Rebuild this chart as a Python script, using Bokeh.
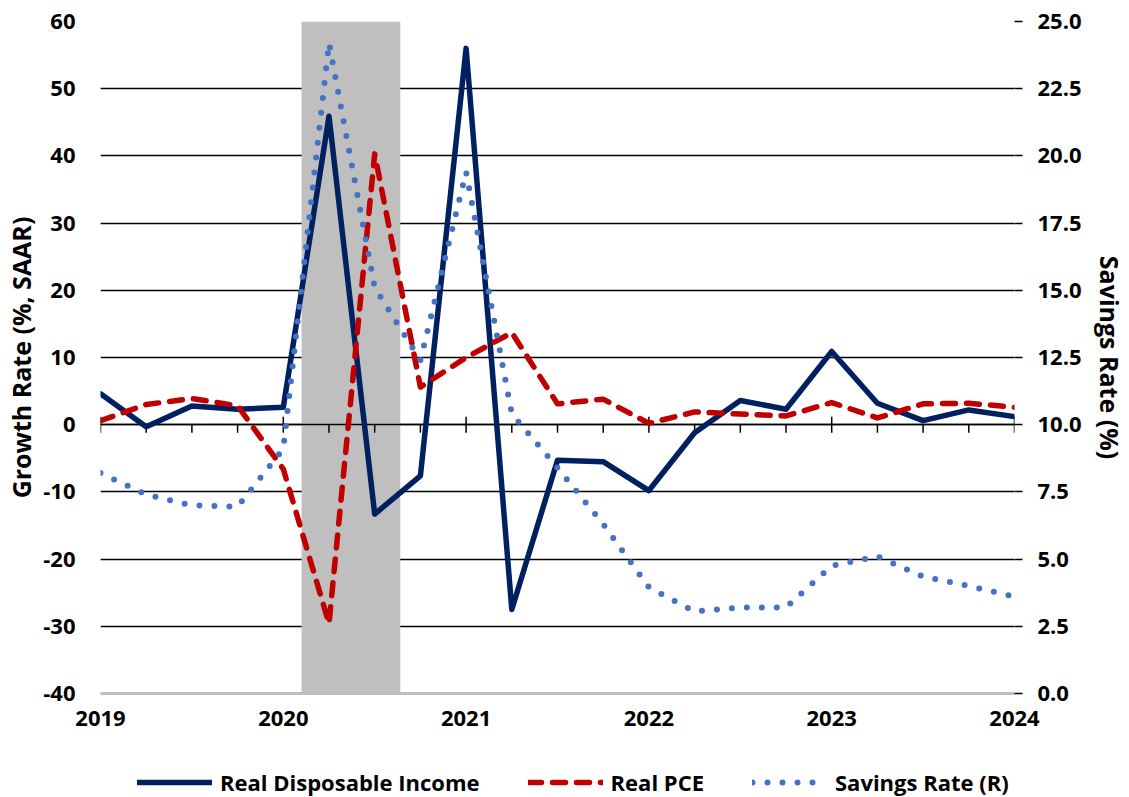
from bokeh.embed import file_html
from bokeh.layouts import column
from bokeh.models import (FixedTicker, Legend, LegendItem, LinearAxis,
                          NumeralTickFormatter, Range1d)
from bokeh.plotting import figure
from bokeh.resources import INLINE

# ---------------------------------------------------------------- data
quarters = ["2019Q1", "2019Q2", "2019Q3", "2019Q4",
            "2020Q1", "2020Q2", "2020Q3", "2020Q4",
            "2021Q1", "2021Q2", "2021Q3", "2021Q4",
            "2022Q1", "2022Q2", "2022Q3", "2022Q4",
            "2023Q1", "2023Q2", "2023Q3", "2023Q4",
            "2024Q1"]

# growth rates, % SAAR (left axis)
real_disposable_income = [4.6, -0.3, 2.8, 2.3, 2.6, 45.9, -13.3, -7.6, 56.0, -27.5,
                          -5.3, -5.5, -9.8, -1.2, 3.6, 2.3, 10.9, 3.2, 0.6, 2.2, 1.2]
real_pce = [0.6, 3.0, 3.9, 2.8, -6.6, -29.6, 40.3, 5.6, 10.0, 13.7,
            3.1, 3.8, 0.2, 1.9, 1.6, 1.3, 3.3, 1.0, 3.1, 3.2, 2.6]

# personal saving rate, % (right axis)
savings_rate = [8.2, 7.4, 7.0, 6.95, 9.1, 24.2, 15.1, 12.4, 19.4, 10.4,
                8.4, 6.3, 3.95, 3.05, 3.2, 3.2, 4.75, 5.1, 4.35, 4.0, 3.6]

year_ticks = [2019, 2020, 2021, 2022, 2023, 2024]
left_ticks = [-40, -30, -20, -10, 0, 10, 20, 30, 40, 50, 60]
right_ticks = [0.0, 2.5, 5.0, 7.5, 10.0, 12.5, 15.0, 17.5, 20.0, 22.5, 25.0]

recession_start = 2020.10
recession_end = 2020.64

left_title = "Growth Rate (%, SAAR)"
right_title = "Savings Rate (%)"
series_names = ["Real Disposable Income", "Real PCE", "Savings Rate (R)"]

# ---------------------------------------------------------------- styling
FONT = "Open Sans"
FONT_SIZE = "22px"
TITLE_SIZE = "25px"
NAVY = "#002060"
RED = "#C00000"
BLUE = "#4472C4"
SHADE = "#BFBFBF"

W, H = 1129, 797
LEGEND_H = 56
CHART_H = H - LEGEND_H
BORDER_L, BORDER_R, BORDER_T, BORDER_B = 100, 110, 21, 48
FRAME_W = W - BORDER_L - BORDER_R
FRAME_H = CHART_H - BORDER_T - BORDER_B

x = [int(q[:4]) + (int(q[-1]) - 1) / 4 for q in quarters]
x_lo, x_hi = year_ticks[0], year_ticks[-1]
y_lo, y_hi = left_ticks[0], left_ticks[-1]
r_lo, r_hi = right_ticks[0], right_ticks[-1]

p = figure(width=W, height=CHART_H,
           min_border_left=BORDER_L, min_border_right=BORDER_R,
           min_border_top=BORDER_T, min_border_bottom=BORDER_B,
           x_range=Range1d(x_lo, x_hi), y_range=Range1d(y_lo, y_hi),
           output_backend="svg", toolbar_location=None,
           background_fill_color="white", border_fill_color="white",
           outline_line_color=None)
p.extra_y_ranges = {"sav": Range1d(r_lo, r_hi)}

ky_left = FRAME_H / (y_hi - y_lo)   # pixels per left-axis unit


def style_axis(axis):
    axis.major_label_text_font = FONT
    axis.major_label_text_font_size = FONT_SIZE
    axis.major_label_text_font_style = "bold"
    axis.major_label_text_color = "black"
    axis.axis_label_text_font = FONT
    axis.axis_label_text_font_size = TITLE_SIZE
    axis.axis_label_text_font_style = "bold"
    axis.axis_label_text_color = "black"
    axis.minor_tick_line_color = None
    axis.minor_tick_out = 0
    axis.minor_tick_in = 0


# bottom axis: only year labels plus the grey floor line
xa = p.xaxis[0]
xa.ticker = FixedTicker(ticks=year_ticks)
xa.axis_line_color = SHADE
xa.axis_line_width = 3
xa.major_tick_line_color = None
xa.major_tick_out = 0
xa.major_tick_in = 0
xa.major_label_standoff = 17
style_axis(xa)

# left axis (plain hyphen for negatives)
ya = p.yaxis[0]
ya.ticker = FixedTicker(ticks=left_ticks)
ya.major_label_overrides = {t: str(t) for t in left_ticks}
ya.axis_line_color = None
ya.major_tick_line_color = None
ya.major_tick_out = 0
ya.major_tick_in = 0
ya.major_label_standoff = 25
ya.axis_label = left_title
ya.axis_label_standoff = 2
style_axis(ya)

# right axis
ra = LinearAxis(y_range_name="sav", ticker=FixedTicker(ticks=right_ticks),
                formatter=NumeralTickFormatter(format="0.0"),
                axis_label=right_title)
ra.axis_line_color = None
ra.major_tick_in = 0
ra.major_tick_out = 8
ra.major_tick_line_color = "black"
ra.major_tick_line_width = 1.5
ra.major_label_standoff = 15
ra.axis_label_standoff = 8
style_axis(ra)
p.add_layout(ra, "right")

# horizontal gridlines
p.xgrid.visible = False
p.ygrid.ticker = FixedTicker(ticks=left_ticks[1:])
p.ygrid.grid_line_color = "black"
p.ygrid.grid_line_width = 1.5

# recession shading
p.quad(left=[recession_start], right=[recession_end], bottom=[y_lo], top=[y_hi],
       fill_color=SHADE, line_color=None)

# zero line with quarterly tick marks
p.hspan(y=[0], line_color="black", line_width=1.5)
tick_len = 8 / ky_left
major_x = [v for v in x if float(v).is_integer()]
minor_x = [v for v in x if not float(v).is_integer()]
p.segment(x0=major_x, y0=[-tick_len] * len(major_x), x1=major_x, y1=[tick_len] * len(major_x),
          line_color="black", line_width=1.5)
p.segment(x0=minor_x, y0=[-tick_len] * len(minor_x), x1=minor_x, y1=[0] * len(minor_x),
          line_color="black", line_width=1.5)

# series styles
rdi_style = dict(line_color=NAVY, line_width=5.5, line_join="round", line_cap="round")
pce_style = dict(line_color=RED, line_width=5.5, line_dash="13 11",
                 line_cap="round", line_join="round")
sav_style = dict(line_color=BLUE, line_width=6, line_dash="0 15",
                 line_cap="round", line_join="round")

p.line(x, real_disposable_income, **rdi_style)
p.line(x, real_pce, **pce_style)
p.line(x, savings_rate, y_range_name="sav", **sav_style)

# legend strip underneath the chart (its frame lines up with the chart's frame)
lg = figure(width=W, height=LEGEND_H, min_border=0,
            x_range=Range1d(x_lo, x_hi), y_range=Range1d(y_lo, y_hi),
            output_backend="svg", toolbar_location=None,
            x_axis_location=None, y_axis_location=None,
            background_fill_color="white", border_fill_color="white",
            outline_line_color=None)
lg.grid.visible = False
lg.extra_y_ranges = {"sav": Range1d(r_lo, r_hi)}
keys = [lg.line(x, real_disposable_income, visible=False, **rdi_style),
        lg.line(x, real_pce, visible=False, **pce_style),
        lg.line(x, savings_rate, y_range_name="sav", visible=False, **sav_style)]

legend = Legend(items=[LegendItem(label=n, renderers=[r]) for n, r in zip(series_names, keys)],
                orientation="horizontal", location=(37, 0),
                glyph_width=75, glyph_height=20, label_standoff=8, spacing=48,
                padding=0, margin=0, border_line_color=None,
                background_fill_alpha=0, inactive_fill_alpha=0,
                label_text_font=FONT, label_text_font_size=FONT_SIZE,
                label_text_font_style="bold", label_text_color="black")
lg.add_layout(legend)

page = column(p, lg, spacing=0)
open("out.html", "w").write(file_html(page, INLINE))
